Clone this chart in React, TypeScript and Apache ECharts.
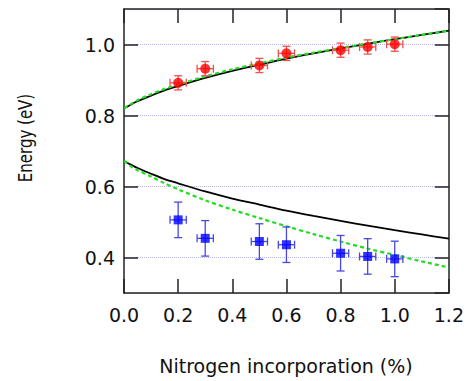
import React, { useEffect, useRef } from "react";
import * as echarts from "echarts";

// Measured data (nitrogen %, energy eV)
const dataX = [0.2, 0.3, 0.5, 0.6, 0.8, 0.9, 1.0];
const upperY = [0.892, 0.932, 0.941, 0.975, 0.984, 0.993, 1.001];
const upperXErr = [0.03, 0.03, 0.03, 0.03, 0.03, 0.03, 0.03];
const upperYErr = [0.02, 0.02, 0.02, 0.02, 0.02, 0.02, 0.02];
const lowerY = [0.506, 0.454, 0.445, 0.436, 0.412, 0.403, 0.396];
const lowerXErr = [0.03, 0.03, 0.03, 0.03, 0.03, 0.03, 0.03];
const lowerYErr = [0.05, 0.05, 0.05, 0.05, 0.05, 0.05, 0.05];

// Model curves
const curveX = [0, 0.025, 0.05, 0.1, 0.15, 0.2, 0.3, 0.4, 0.5, 0.6, 0.7, 0.8, 0.9, 1.0, 1.1, 1.2];
const blackUpper = [0.82, 0.8305, 0.84, 0.856, 0.871, 0.883, 0.906, 0.926, 0.943, 0.96, 0.975, 0.989, 1.002, 1.015, 1.027, 1.039];
const blackLower = [0.672, 0.6615, 0.652, 0.636, 0.621, 0.609, 0.586, 0.566, 0.549, 0.532, 0.517, 0.503, 0.49, 0.477, 0.465, 0.453];
const greenUpper = [0.82, 0.832, 0.843, 0.86, 0.875, 0.887, 0.91, 0.93, 0.947, 0.963, 0.977, 0.99, 1.003, 1.015, 1.027, 1.039];
const greenLower = [0.672, 0.657, 0.646, 0.628, 0.609, 0.592, 0.561, 0.535, 0.511, 0.488, 0.466, 0.445, 0.425, 0.407, 0.389, 0.372];

const xTicks = [0, 0.2, 0.4, 0.6, 0.8, 1.0, 1.2];
const yTickLabels = ["0.4", "0.6", "0.8", "1.0"];

const FONT = "DejaVu Sans";

function pairs(xs: number[], ys: number[]) {
  return xs.map((x, i) => [x, ys[i]]);
}

function errData(xs: number[], ys: number[], ex: number[], ey: number[]) {
  return xs.map((x, i) => [x, ys[i], ex[i], ey[i]]);
}

function makeErrRender(color: string) {
  return (params: any, api: any) => {
    const x = api.value(0);
    const y = api.value(1);
    const ex = api.value(2);
    const ey = api.value(3);
    const l = api.coord([x - ex, y]);
    const r = api.coord([x + ex, y]);
    const t = api.coord([x, y + ey]);
    const b = api.coord([x, y - ey]);
    const cap = 4;
    const style = { stroke: color, lineWidth: 1.3 };
    return {
      type: "group",
      children: [
        { type: "line", shape: { x1: l[0], y1: l[1], x2: r[0], y2: r[1] }, style },
        { type: "line", shape: { x1: t[0], y1: t[1], x2: b[0], y2: b[1] }, style },
        { type: "line", shape: { x1: t[0] - cap, y1: t[1], x2: t[0] + cap, y2: t[1] }, style },
        { type: "line", shape: { x1: b[0] - cap, y1: b[1], x2: b[0] + cap, y2: b[1] }, style },
        { type: "line", shape: { x1: l[0], y1: l[1] - cap, x2: l[0], y2: l[1] + cap }, style },
        { type: "line", shape: { x1: r[0], y1: r[1] - cap, x2: r[0], y2: r[1] + cap }, style },
      ],
    };
  };
}

export default function App() {
  const ref = useRef<HTMLDivElement>(null);

  useEffect(() => {
    if (!ref.current) return;
    const chart = echarts.init(ref.current, null, { renderer: "svg" });
    const axisColor = "#222";
    const baseX = {
      type: "value",
      min: xTicks[0],
      max: xTicks[xTicks.length - 1],
      interval: 0.2,
      axisLine: { show: true, onZero: false, lineStyle: { color: axisColor, width: 1.5 } },
      axisTick: { show: true, inside: true, length: 14, lineStyle: { color: axisColor, width: 1.5 } },
      splitLine: { show: false },
    };
    const baseY = {
      type: "value",
      min: 0.3,
      max: 1.1,
      splitNumber: 4,
      minInterval: 0.2,
      maxInterval: 0.2,
      axisLine: { show: true, onZero: false, lineStyle: { color: axisColor, width: 1.5 } },
      axisTick: { show: true, inside: true, length: 14, lineStyle: { color: axisColor, width: 1.5 } },
    };
    chart.setOption({
      animation: false,
      backgroundColor: "#ffffff",
      grid: { left: 124, right: 18, top: 9, bottom: 88 },
      xAxis: [
        {
          ...baseX,
          position: "bottom",
          axisLabel: {
            show: true,
            fontSize: 19,
            fontFamily: FONT,
            color: "#111",
            margin: 12,
            formatter: (v: number) => v.toFixed(1),
          },
        },
        { ...baseX, position: "top", axisLabel: { show: false } },
      ],
      yAxis: [
        {
          ...baseY,
          position: "left",
          axisLabel: {
            show: true,
            fontSize: 19,
            fontFamily: FONT,
            color: "#111",
            margin: 9,
            showMinLabel: false,
            showMaxLabel: false,
            formatter: (v: number) => {
              const s = v.toFixed(1);
              return yTickLabels.indexOf(s) >= 0 ? s : "";
            },
          },
          splitLine: { show: true, lineStyle: { color: "#b8b8ee", type: "dotted", width: 1 } },
        },
        { ...baseY, position: "right", axisLabel: { show: false }, splitLine: { show: false } },
      ],
      graphic: [
        {
          type: "text",
          x: 286,
          y: 366,
          style: {
            text: "Nitrogen incorporation (%)",
            fontSize: 19,
            fontFamily: FONT,
            fill: "#111",
            align: "center",
            verticalAlign: "middle",
          },
        },
        {
          type: "text",
          x: 25,
          y: 138,
          rotation: Math.PI / 2,
          scaleY: 1.25,
          style: {
            text: "Energy (eV)",
            fontSize: 15,
            fontFamily: FONT,
            fill: "#111",
            align: "center",
            verticalAlign: "middle",
          },
        },
      ],
      series: [
        {
          type: "line",
          data: pairs(curveX, blackUpper),
          smooth: 0.3,
          symbol: "none",
          lineStyle: { color: "#000", width: 1.8 },
          z: 3,
        },
        {
          type: "line",
          data: pairs(curveX, blackLower),
          smooth: 0.3,
          symbol: "none",
          lineStyle: { color: "#000", width: 1.8 },
          z: 3,
        },
        {
          type: "line",
          data: pairs(curveX, greenUpper),
          smooth: 0.3,
          symbol: "none",
          lineStyle: { color: "#22dd22", width: 2.2, type: [4, 3] },
          z: 4,
        },
        {
          type: "line",
          data: pairs(curveX, greenLower),
          smooth: 0.3,
          symbol: "none",
          lineStyle: { color: "#22dd22", width: 2.2, type: [4, 3] },
          z: 4,
        },
        {
          type: "custom",
          data: errData(dataX, upperY, upperXErr, upperYErr),
          encode: { x: 0, y: 1 },
          renderItem: makeErrRender("#f05050"),
          z: 5,
        },
        {
          type: "custom",
          data: errData(dataX, lowerY, lowerXErr, lowerYErr),
          encode: { x: 0, y: 1 },
          renderItem: makeErrRender("#4848e0"),
          z: 5,
        },
        {
          type: "scatter",
          data: pairs(dataX, upperY),
          symbol: "circle",
          symbolSize: 10,
          itemStyle: { color: "#ff0000" },
          z: 6,
        },
        {
          type: "scatter",
          data: pairs(dataX, lowerY),
          symbol: "rect",
          symbolSize: 9,
          itemStyle: { color: "#0000ff" },
          z: 6,
        },
      ],
    });
    return () => chart.dispose();
  }, []);

  return (
    <div
      ref={ref}
      style={{ position: "fixed", left: 0, top: 0, width: 467, height: 381, background: "#fff" }}
    />
  );
}
